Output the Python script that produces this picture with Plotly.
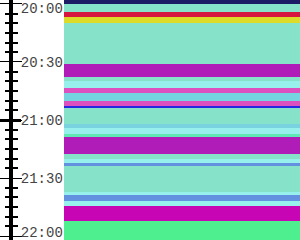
import plotly.graph_objects as go
from datetime import datetime

DAY = "2024-01-01 "
# band start times and end times (HH:MM:SS) and colours, top to bottom
starts = ["19:58:00", "20:00:00", "20:04:00", "20:07:00", "20:10:00", "20:31:00", "20:38:00",
          "20:40:00", "20:43:30", "20:46:00", "20:50:00", "20:53:00", "20:54:00", "21:02:00",
          "21:04:00", "21:07:00", "21:09:00", "21:17:30", "21:20:00", "21:22:00", "21:24:00",
          "21:37:00", "21:39:00", "21:42:00", "21:44:30", "21:52:00"]
ends = starts[1:] + ["22:02:00"]
colors = ["#1c1c66", "#86e3ca", "#d6163e", "#dcdc28", "#86e3ca", "#b01cb8", "#86e3ca",
          "#98f0ec", "#dc50c0", "#74d4e0", "#dc50c0", "#2828e0", "#86e3ca", "#78d2e0",
          "#98f0ec", "#5ee9b5", "#b01cb8", "#86e3ca", "#98f0ec", "#6490e0", "#86e3ca",
          "#98f0ec", "#6490e0", "#98f0ec", "#c805b5", "#4eef8e"]

range_start = "19:58:00"
range_end = "22:02:00"
inner_labels = ["20:30:00", "21:00:00", "21:30:00"]
first_label = "20:00:00"
last_label = "22:00:00"
hour_tick = "21:00:00"
major_every_min = 30
minor_every_min = 5


def ts(s):
    return datetime.strptime(DAY + s, "%Y-%m-%d %H:%M:%S")


base = [ts(s) for s in starts]
dur = [(ts(e) - ts(s)).total_seconds() * 1000 for s, e in zip(starts, ends)]

fig = go.Figure()
fig.add_trace(go.Bar(x=[0] * len(base), y=dur, base=base, width=1,
                     marker=dict(color=colors, line=dict(width=0)),
                     showlegend=False, hoverinfo="skip"))
axes = ["y2", "y3", "y4", "y5", "y6", "y7", "y8"]
for ax in axes:
    fig.add_trace(go.Scatter(x=[None], y=[None], yaxis=ax, showlegend=False,
                             hoverinfo="skip", mode="markers"))

rng = [ts(range_end), ts(range_start)]
t0 = ts("20:00:00")
common = dict(type="date", range=rng, overlaying="y", anchor="free", automargin=False,
              position=11 / 300, side="right", showgrid=False, zeroline=False)
lab_font = dict(family="Liberation Mono", size=14, color="#444")
lab_common = dict(**common, showline=False, ticks="outside", ticklen=6,
                  tickcolor="rgba(0,0,0,0)", tickmode="array", tickformat="%H:%M",
                  tickfont=lab_font, ticklabeloverflow="allow")

fig.update_layout(
    width=300, height=240, margin=dict(l=0, r=0, t=0, b=0, autoexpand=False),
    paper_bgcolor="white", plot_bgcolor="white", barmode="overlay", bargap=0,
    xaxis=dict(domain=[64 / 300, 1], range=[-0.5, 0.5], visible=False, automargin=False),
    yaxis=dict(type="date", range=rng, showticklabels=False, showgrid=False,
               zeroline=False, ticks="", automargin=False),
    yaxis2=dict(**common, showline=True, linewidth=4, linecolor="black",
                ticks="outside", ticklen=9, tickwidth=1, tickcolor="black",
                tickmode="linear", tick0=t0, dtick=major_every_min * 60000,
                showticklabels=False,
                minor=dict(ticks="outside", ticklen=5, tickwidth=2, tickcolor="black",
                           tick0=t0, dtick=minor_every_min * 60000)),
    yaxis3=dict(**common, showline=False, ticks="inside", ticklen=11, tickwidth=1,
                tickcolor="black", tickmode="linear", tick0=t0,
                dtick=major_every_min * 60000, showticklabels=False,
                minor=dict(ticks="inside", ticklen=6, tickwidth=2, tickcolor="black",
                           tick0=t0, dtick=minor_every_min * 60000)),
    yaxis4=dict(**common, showline=False, ticks="outside", ticklen=9, tickwidth=3,
                tickcolor="black", tickmode="array", tickvals=[ts(hour_tick)],
                showticklabels=False),
    yaxis5=dict(**common, showline=False, ticks="inside", ticklen=11, tickwidth=3,
                tickcolor="black", tickmode="array", tickvals=[ts(hour_tick)],
                showticklabels=False),
    yaxis6=dict(**lab_common, tickvals=[ts(s) for s in inner_labels]),
    yaxis7=dict(**lab_common, tickvals=[ts(first_label)], ticklabelshift=-4),
    yaxis8=dict(**lab_common, tickvals=[ts(last_label)], ticklabelshift=4),
)

fig.write_html("out.html")
